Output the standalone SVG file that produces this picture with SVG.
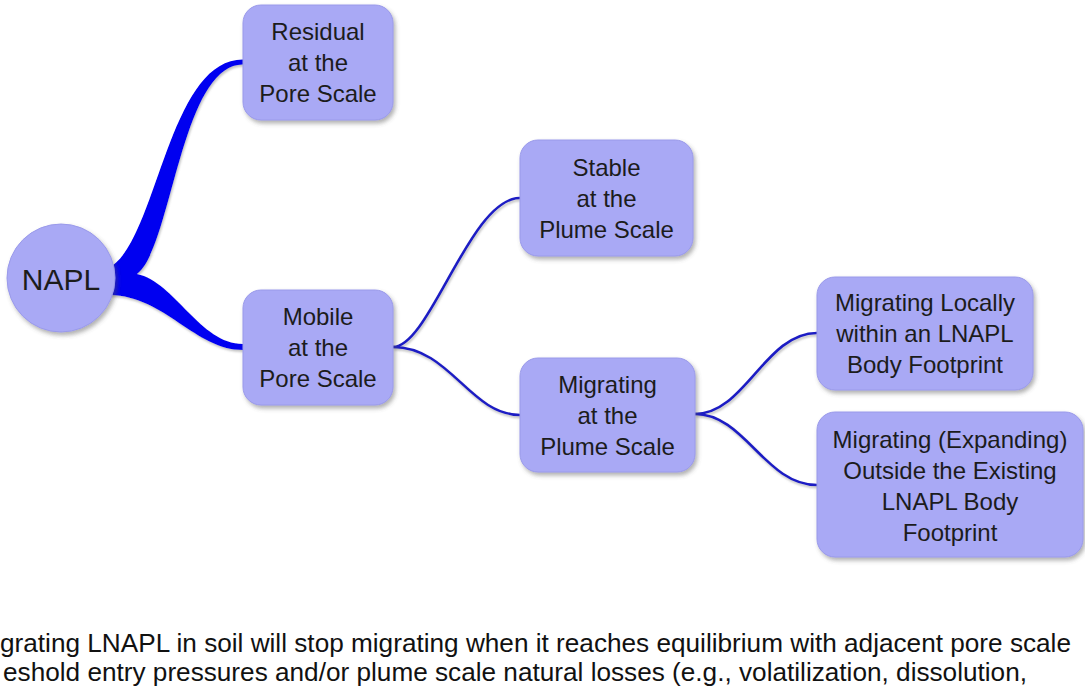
<svg xmlns="http://www.w3.org/2000/svg" width="1085" height="692" viewBox="0 0 1085 692">
<defs>
<style>
.node{fill:#a9a9f5;stroke:#9a9aea;stroke-width:1;filter:url(#sh)}
.lbl{font-family:"Liberation Sans",Arial,sans-serif;font-size:24px;fill:#1c1c1c;text-anchor:middle}
.thin{fill:none;stroke:#1e1ec4;stroke-width:2.6}
.thick{fill:#0000f0}
.body{font-family:"Liberation Sans",Arial,sans-serif;font-size:25.5px;fill:#111}
</style>
<filter id="sh" x="-20%" y="-20%" width="140%" height="140%">
<feDropShadow dx="2" dy="3" stdDeviation="2" flood-color="#555" flood-opacity="0.45"/>
</filter>
<filter id="lsh" x="-10%" y="-10%" width="120%" height="120%">
<feDropShadow dx="1" dy="2" stdDeviation="1" flood-color="#777" flood-opacity="0.45"/>
</filter>
</defs>
<rect width="1085" height="692" fill="#fff"/>
<g id="connectors" filter="url(#lsh)">
<path class="thick" d="M112,266 C158,234 169,59.5 243,59.5 L243,64.5 C181,64.5 172,248 137,274 L112,284 Z"/>
<path class="thick" d="M112,272 L137,274 C175,282 200,344 243,344 L243,350 C195,350 165,296 110,295 Z"/>
<path class="thin" d="M393,347 C430,347 470,198 520,198"/>
<path class="thin" d="M393,347 C450,347 470,415 520,415"/>
<path class="thin" d="M695,414 C745,414 765,333 817,333"/>
<path class="thin" d="M695,414 C745,414 765,485 817,485"/>
</g>
<g id="napl">
<circle class="node" cx="61" cy="278" r="54"/>
<text class="lbl" x="61" y="290" style="font-size:30px">NAPL</text>
</g>
<g id="residual">
<rect class="node" x="243" y="5" width="150" height="115" rx="18"/>
<text class="lbl" x="318" y="40">Residual</text>
<text class="lbl" x="318" y="71">at the</text>
<text class="lbl" x="318" y="102">Pore Scale</text>
</g>
<g id="mobile">
<rect class="node" x="243" y="290" width="150" height="115" rx="18"/>
<text class="lbl" x="318" y="325">Mobile</text>
<text class="lbl" x="318" y="356">at the</text>
<text class="lbl" x="318" y="387">Pore Scale</text>
</g>
<g id="stable">
<rect class="node" x="520" y="140" width="173" height="116" rx="18"/>
<text class="lbl" x="606.5" y="175.5">Stable</text>
<text class="lbl" x="606.5" y="206.5">at the</text>
<text class="lbl" x="606.5" y="237.5">Plume Scale</text>
</g>
<g id="migrating">
<rect class="node" x="520" y="358" width="175" height="114" rx="18"/>
<text class="lbl" x="607.5" y="392.5">Migrating</text>
<text class="lbl" x="607.5" y="423.5">at the</text>
<text class="lbl" x="607.5" y="454.5">Plume Scale</text>
</g>
<g id="locally">
<rect class="node" x="817" y="277" width="216" height="113" rx="18"/>
<text class="lbl" x="925" y="311">Migrating Locally</text>
<text class="lbl" x="925" y="342">within an LNAPL</text>
<text class="lbl" x="925" y="373">Body Footprint</text>
</g>
<g id="expanding">
<rect class="node" x="817" y="412" width="266" height="145" rx="18"/>
<text class="lbl" x="950" y="448">Migrating (Expanding)</text>
<text class="lbl" x="950" y="479">Outside the Existing</text>
<text class="lbl" x="950" y="510">LNAPL Body</text>
<text class="lbl" x="950" y="541">Footprint</text>
</g>
<g id="caption">
<text class="body" x="0" y="652" textLength="1071" lengthAdjust="spacingAndGlyphs">grating LNAPL in soil will stop migrating when it reaches equilibrium with adjacent pore scale</text>
<text class="body" x="3" y="681" textLength="1024" lengthAdjust="spacingAndGlyphs">eshold entry pressures and/or plume scale natural losses (e.g., volatilization, dissolution,</text>
</g>
</svg>
